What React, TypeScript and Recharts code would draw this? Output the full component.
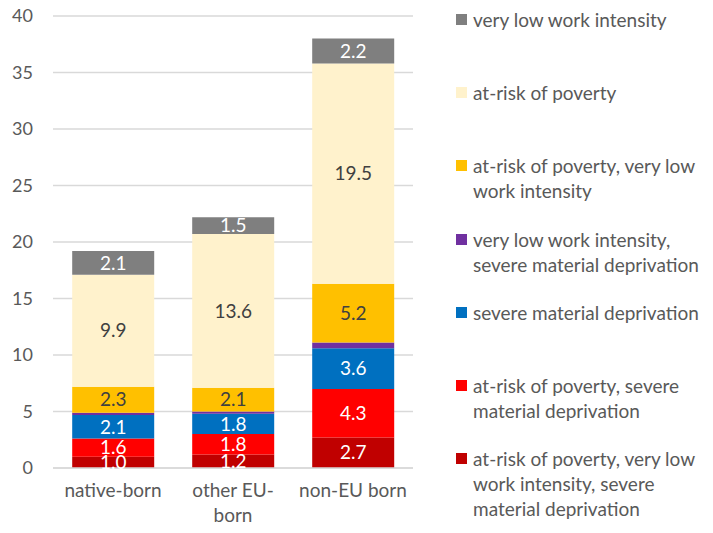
import React from "react";
import {
  BarChart,
  Bar,
  XAxis,
  YAxis,
  CartesianGrid,
  Legend,
  LabelList,
} from "recharts";

const categories = ["native-born", "other EU-born", "non-EU born"];
const categoryLines = [["native-born"], ["other EU-", "born"], ["non-EU born"]];
const yTicks = [0, 5, 10, 15, 20, 25, 30, 35, 40];

// stack order, bottom to top
const povertyWorkDeprivation = [1.0, 1.2, 2.7];
const povertyDeprivation = [1.6, 1.8, 4.3];
const deprivation = [2.1, 1.8, 3.6];
const workDeprivation = [0.2, 0.2, 0.5];
const povertyWork = [2.3, 2.1, 5.2];
const poverty = [9.9, 13.6, 19.5];
const lowWork = [2.1, 1.5, 2.2];

const seriesKeys = ["pwd", "pd", "d", "wd", "pw", "p", "w"];
const seriesValues = [
  povertyWorkDeprivation,
  povertyDeprivation,
  deprivation,
  workDeprivation,
  povertyWork,
  poverty,
  lowWork,
];
const seriesLegend = [
  ["at-risk of poverty, very low", "work intensity, severe", "material deprivation"],
  ["at-risk of poverty, severe", "material deprivation"],
  ["severe material deprivation"],
  ["very low work intensity,", "severe material deprivation"],
  ["at-risk of poverty, very low", "work intensity"],
  ["at-risk of poverty"],
  ["very low work intensity"],
];
const seriesColors = ["#c00000", "#ff0000", "#0070c0", "#7030a0", "#ffc000", "#fff2cc", "#7f7f7f"];
const labelColors = ["#ffffff", "#ffffff", "#ffffff", null, "#404040", "#404040", "#ffffff"];

const data = categories.map((c, i) => {
  const row: Record<string, string | number> = { name: c };
  seriesKeys.forEach((k, s) => {
    row[k] = seriesValues[s][i];
  });
  return row;
});

const FONT = "Lato, 'Open Sans', sans-serif";
const TEXT = "#595959";

const CategoryTick = (props: any) => {
  const { x, y, index } = props;
  const lines = categoryLines[index] || [props.payload.value];
  return (
    <text x={x} y={y} textAnchor="middle" fill={TEXT} fontSize={19} fontFamily={FONT}>
      {lines.map((l: string, i: number) => (
        <tspan key={i} x={x} dy={i === 0 ? 21 : 25}>
          {l}
        </tspan>
      ))}
    </text>
  );
};

const renderLegend = () => {
  const items = seriesKeys.map((k, i) => i).reverse();
  return (
    <div style={{ position: "relative", width: 263, height: 533, fontFamily: FONT }}>
      {items.map((s, j) => (
        <div
          key={seriesKeys[s]}
          style={{
            position: "absolute",
            left: 0,
            top: 7 + j * 73.2,
            fontSize: 19,
            lineHeight: "25px",
            color: TEXT,
            whiteSpace: "nowrap",
          }}
        >
          <span
            style={{
              position: "absolute",
              left: 6,
              top: 7,
              width: 11,
              height: 11,
              background: seriesColors[s],
            }}
          />
          <div style={{ marginLeft: 23 }}>
            {seriesLegend[s].map((l, i) => (
              <div key={i}>{l}</div>
            ))}
          </div>
        </div>
      ))}
    </div>
  );
};

export default function App() {
  return (
    <div style={{ position: "absolute", left: 0, top: 0, width: 713, height: 533, background: "#fff" }}>
      <BarChart
        width={713}
        height={533}
        data={data}
        margin={{ top: 16, right: 300, bottom: 35, left: 0 }}
        barCategoryGap="16%"
      >
        <CartesianGrid vertical={false} stroke="#d9d9d9" strokeWidth={1.5} />
        <XAxis
          dataKey="name"
          height={30}
          axisLine={{ stroke: "#d9d9d9", strokeWidth: 1.5 }}
          tickLine={false}
          tick={<CategoryTick />}
          interval={0}
        />
        <YAxis
          width={53}
          domain={[0, 40]}
          ticks={yTicks}
          axisLine={false}
          tickLine={false}
          tickSize={0}
          tickMargin={20}
          tick={{ fill: TEXT, fontSize: 18, fontFamily: FONT }}
        />
        <Legend
          layout="horizontal"
          verticalAlign="middle"
          align="center"
          width={263}
          wrapperStyle={{ left: 450, top: 0 }}
          content={renderLegend}
        />
        {seriesKeys.map((k, s) => (
          <Bar
            key={k}
            dataKey={k}
            stackId="a"
            fill={seriesColors[s]}
            name={seriesLegend[s].join(" ")}
            isAnimationActive={false}
          >
            {labelColors[s] && (
              <LabelList
                dataKey={k}
                position="center"
                fill={labelColors[s] as string}
                fontSize={19}
                fontFamily={FONT}
                formatter={(v: any) => Number(v).toFixed(1)}
              />
            )}
          </Bar>
        ))}
      </BarChart>
    </div>
  );
}
